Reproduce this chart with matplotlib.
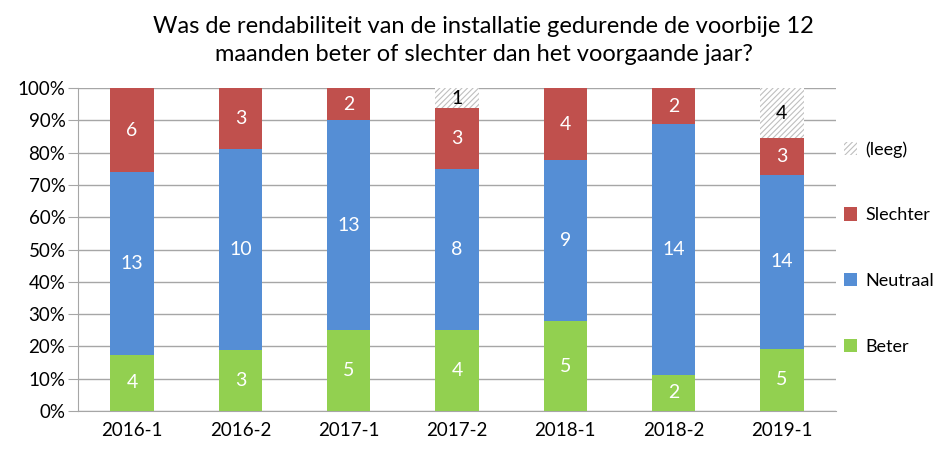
import numpy as np
import matplotlib
matplotlib.use("Agg")
import matplotlib.pyplot as plt
from matplotlib.patches import Patch

plt.rcParams["font.family"] = ["Lato", "DejaVu Sans"]
plt.rcParams["hatch.color"] = "#a6a6a6"
plt.rcParams["hatch.linewidth"] = 0.8

periods = ["2016-1", "2016-2", "2017-1", "2017-2", "2018-1", "2018-2", "2019-1"]
beter = [4, 3, 5, 4, 5, 2, 5]
neutraal = [13, 10, 13, 8, 9, 14, 14]
slechter = [6, 3, 2, 3, 4, 2, 3]
leeg = [0, 0, 0, 1, 0, 0, 4]

series = [
    ("Beter", beter, "#92d050", "white"),
    ("Neutraal", neutraal, "#558ed5", "white"),
    ("Slechter", slechter, "#c0504d", "white"),
    ("(leeg)", leeg, "white", "black"),
]


def main():
    counts = np.array([s[1] for s in series], dtype=float)
    totals = counts.sum(axis=0)
    shares = counts / totals * 100

    fig = plt.figure(figsize=(9.5, 4.5), dpi=100)
    ax = fig.add_axes([0.082, 0.087, 0.798, 0.717])
    x = np.arange(len(periods))
    bottom = np.zeros(len(periods))
    handles = []
    for (name, vals, color, txtcolor), share in zip(series, shares):
        if name == "(leeg)":
            ax.bar(x, share, 0.4, bottom=bottom, color="white",
                   hatch="//////", edgecolor="#bfbfbf", linewidth=0, zorder=3)
            handles.append(Patch(facecolor="white", hatch="//////", edgecolor="#bfbfbf",
                                 linewidth=0, label=name))
        else:
            ax.bar(x, share, 0.4, bottom=bottom, color=color, zorder=3)
            handles.append(Patch(facecolor=color, label=name))
        for xi, v, s, b in zip(x, vals, share, bottom):
            if v > 0:
                ax.text(xi, b + s / 2, str(v), ha="center", va="center",
                        color=txtcolor, fontsize=14, zorder=4)
        bottom += share

    ax.set_xlim(-0.5, len(periods) - 0.5)
    ax.set_ylim(0, 100)
    ax.set_yticks(np.arange(0, 101, 10))
    ax.set_yticklabels([f"{v}%" for v in range(0, 101, 10)], fontsize=13.5)
    ax.set_xticks(x)
    ax.set_xticklabels(periods, fontsize=13.5)
    ax.yaxis.grid(True, color="#a6a6a6", linewidth=1, zorder=0)
    ax.set_axisbelow(True)
    for sp in ["top", "right"]:
        ax.spines[sp].set_visible(False)
    for sp in ["left", "bottom"]:
        ax.spines[sp].set_color("#a6a6a6")
    ax.tick_params(axis="y", length=7, color="#a6a6a6", pad=2)
    ax.tick_params(axis="x", length=0, pad=8)

    fig.legend(handles[::-1], [h.get_label() for h in handles[::-1]],
               loc="center left", bbox_to_anchor=(0.888, 0.449), frameon=False,
               fontsize=13, labelspacing=2.75, handlelength=0.75, handleheight=0.75,
               handletextpad=0.45, borderpad=0, borderaxespad=0)

    fig.suptitle("Was de rendabiliteit van de installatie gedurende de voorbije 12\n"
                 "maanden beter of slechter dan het voorgaande jaar?",
                 x=0.509, y=0.965, fontsize=17, linespacing=1.45)
    fig.savefig("out.png")


if __name__ == "__main__":
    main()
